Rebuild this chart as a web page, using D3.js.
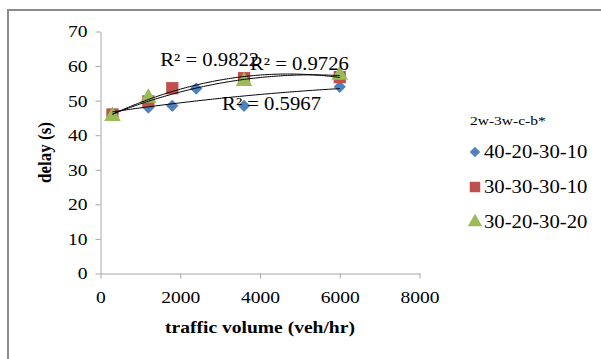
<!DOCTYPE html>
<html>
<head>
<meta charset="utf-8">
<script src="https://cdn.jsdelivr.net/npm/d3@7"></script>
<style>
  body { margin: 0; background: #fff; }
</style>
</head>
<body>
<script>
// series data
const seriesNames = ["40-20-30-10", "30-30-30-10", "30-20-30-20"];
const blueX = [300, 1200, 1800, 2400, 3600, 6000];
const blueY = [46.3, 48, 48.5, 53.5, 48.5, 54];
const redX = [300, 1200, 1800, 3600, 6000];
const redY = [46, 49.8, 53.6, 56.5, 56.8];
const greenX = [300, 1200, 3600, 6000];
const greenY = [45.5, 50.8, 55.6, 57.4];
const rSquared = ["R² = 0.5967", "R² = 0.9822", "R² = 0.9726"];
const xTicks = [0, 2000, 4000, 6000, 8000];
const yTicks = [0, 10, 20, 30, 40, 50, 60, 70];
const legendTitle = "2w-3w-c-b*";
const xTitle = "traffic volume (veh/hr)";
const yTitle = "delay (s)";

const W = 601, H = 359;
const serif = "'Liberation Serif', 'Times New Roman', serif";
const sx = 1.15; // the original text is a little wider than Times
const colors = ["#4f81bd", "#c0504d", "#9bbb59"];
const shapes = [d3.symbolSquare, d3.symbolSquare, d3.symbolTriangle];
const rotations = [45, 0, 0];

const svg = d3.select("body").append("svg")
    .attr("width", W)
    .attr("height", H);

// outer frame (runs past the right and bottom edges)
svg.append("rect")
    .attr("x", 8).attr("y", 10)
    .attr("width", 620).attr("height", 380)
    .attr("fill", "none")
    .attr("stroke", "#8a8a8a")
    .attr("stroke-width", 2);

const x = d3.scaleLinear().domain([0, 8000]).range([100.5, 419.5]);
const y = d3.scaleLinear().domain([0, 70]).range([273.5, 31.5]);

const axisColor = "#a6a6a6";

function wideText(sel, size, weight) {
    sel.style("font-family", serif)
        .style("font-size", size + "px")
        .style("font-weight", weight || "normal")
        .attr("fill", "#000")
        .each(function () {
            const t = d3.select(this);
            const tx = +t.attr("x") || 0, ty = +t.attr("y") || 0;
            t.attr("x", 0).attr("y", 0)
                .attr("transform", `translate(${tx}, ${ty}) scale(${sx}, 1)`);
        });
}

const gx = svg.append("g")
    .attr("transform", `translate(0, ${y(0)})`)
    .call(d3.axisBottom(x).tickValues(xTicks).tickFormat(d3.format("d"))
        .tickSize(5).tickSizeOuter(0).tickPadding(12));
wideText(gx.selectAll("text"), 17);

const gy = svg.append("g")
    .attr("transform", `translate(${x(0)}, 0)`)
    .call(d3.axisLeft(y).tickValues(yTicks).tickSize(5).tickSizeOuter(0).tickPadding(8));
wideText(gy.selectAll("text"), 17);

svg.selectAll(".domain, .tick line").attr("stroke", axisColor);

svg.append("text")
    .attr("x", 260).attr("y", 333)
    .attr("text-anchor", "middle")
    .call(wideText, 17, "bold")
    .text(xTitle);

svg.append("text")
    .attr("transform", `translate(51, ${(y(0) + y(70)) / 2}) rotate(-90) scale(1, ${sx})`)
    .attr("text-anchor", "middle")
    .style("font-family", serif)
    .style("font-size", "17px").style("font-weight", "bold")
    .text(yTitle);

const series = [
    { xs: blueX, ys: blueY },
    { xs: redX, ys: redY },
    { xs: greenX, ys: greenY }
];

// second order least squares, like the spreadsheet trendline
function quadFit(xs, ys) {
    let s = [0, 0, 0, 0, 0], t = [0, 0, 0];
    xs.forEach((xv, i) => {
        const u = xv / 1000;
        for (let k = 0; k < 5; k++) s[k] += Math.pow(u, k);
        for (let k = 0; k < 3; k++) t[k] += ys[i] * Math.pow(u, k);
    });
    const A = [[s[0], s[1], s[2], t[0]], [s[1], s[2], s[3], t[1]], [s[2], s[3], s[4], t[2]]];
    for (let i = 0; i < 3; i++) {
        for (let j = i + 1; j < 3; j++) {
            const f = A[j][i] / A[i][i];
            for (let k = i; k < 4; k++) A[j][k] -= f * A[i][k];
        }
    }
    const c = [0, 0, 0];
    for (let i = 2; i >= 0; i--) {
        let v = A[i][3];
        for (let k = i + 1; k < 3; k++) v -= A[i][k] * c[k];
        c[i] = v / A[i][i];
    }
    return xv => c[0] + c[1] * xv / 1000 + c[2] * Math.pow(xv / 1000, 2);
}

const line = d3.line().x(d => x(d[0])).y(d => y(d[1]));
const plotSizes = [75, 150, 120];
const legendSizes = [55, 110, 90];

// points first, trendlines drawn on top
series.forEach((s, i) => {
    svg.append("g").selectAll("path")
        .data(s.xs.map((xv, j) => [xv, s.ys[j]]))
        .enter()
        .append("path")
        .attr("transform", d => `translate(${x(d[0])}, ${y(d[1])}) rotate(${rotations[i]})`)
        .attr("d", d3.symbol().type(shapes[i]).size(plotSizes[i]))
        .attr("fill", colors[i]);
});

series.forEach((s, i) => {
    const f = quadFit(s.xs, s.ys);
    const pts = d3.range(0, 101).map(k => {
        const xv = d3.min(s.xs) + (d3.max(s.xs) - d3.min(s.xs)) * k / 100;
        return [xv, f(xv)];
    });
    svg.append("path")
        .attr("d", line(pts))
        .attr("fill", "none")
        .attr("stroke", "#000")
        .attr("stroke-width", 1);
});

// R² labels, placed in data units
const labelAt = [[3050, 47.3], [1500, 59.9], [3750, 58.9]];
rSquared.forEach((t, i) => {
    svg.append("text")
        .attr("x", x(labelAt[i][0]))
        .attr("y", y(labelAt[i][1]))
        .call(wideText, 18)
        .text(t);
});

// legend
const lg = svg.append("g");
lg.append("text")
    .attr("x", 470).attr("y", 125)
    .call(wideText, 13.5)
    .text(legendTitle);

seriesNames.forEach((n, i) => {
    const cy = 152 + i * 35;
    lg.append("path")
        .attr("transform", `translate(475, ${cy}) rotate(${rotations[i]})`)
        .attr("d", d3.symbol().type(shapes[i]).size(legendSizes[i]))
        .attr("fill", colors[i]);
    lg.append("text")
        .attr("x", 484).attr("y", cy + 6)
        .call(wideText, 18)
        .text(n);
});
</script>
</body>
</html>
